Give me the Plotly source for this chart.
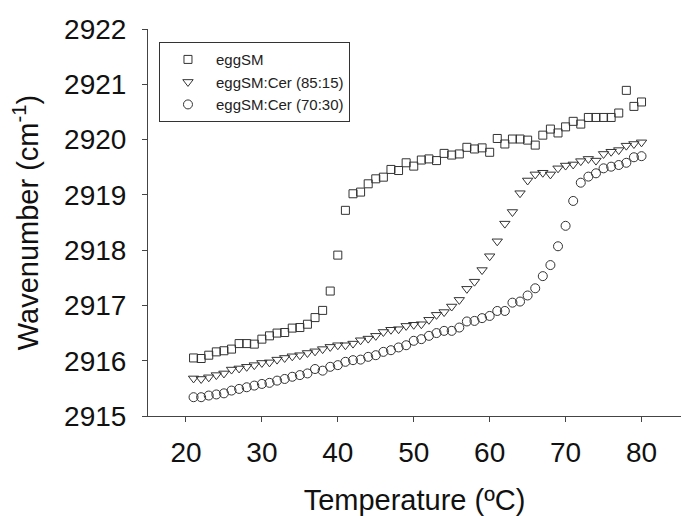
import plotly.graph_objects as go

temperature = list(range(21, 81))

egg_sm = [2916.05, 2916.04, 2916.10, 2916.16, 2916.18, 2916.21, 2916.31, 2916.31, 2916.30, 2916.39,
          2916.45, 2916.50, 2916.51, 2916.59, 2916.60, 2916.66, 2916.78, 2916.91, 2917.26, 2917.91,
          2918.72, 2919.02, 2919.05, 2919.20, 2919.29, 2919.32, 2919.46, 2919.44, 2919.58, 2919.52,
          2919.63, 2919.65, 2919.62, 2919.75, 2919.72, 2919.74, 2919.86, 2919.83, 2919.85, 2919.77,
          2920.02, 2919.92, 2920.01, 2920.01, 2919.99, 2919.90, 2920.08, 2920.19, 2920.12, 2920.23,
          2920.33, 2920.28, 2920.40, 2920.40, 2920.40, 2920.40, 2920.48, 2920.89, 2920.60, 2920.68]

egg_sm_cer_85_15 = [2915.68, 2915.67, 2915.70, 2915.74, 2915.77, 2915.84, 2915.86, 2915.89, 2915.92, 2915.96,
                    2915.97, 2916.02, 2916.05, 2916.08, 2916.10, 2916.14, 2916.17, 2916.21, 2916.25, 2916.28,
                    2916.28, 2916.31, 2916.37, 2916.40, 2916.45, 2916.52, 2916.56, 2916.57, 2916.63, 2916.65,
                    2916.66, 2916.74, 2916.83, 2916.88, 2916.98, 2917.10, 2917.30, 2917.43, 2917.64, 2917.89,
                    2918.16, 2918.48, 2918.69, 2919.03, 2919.26, 2919.37, 2919.40, 2919.37, 2919.48, 2919.53,
                    2919.55, 2919.61, 2919.65, 2919.62, 2919.74, 2919.78, 2919.81, 2919.89, 2919.92, 2919.95]

egg_sm_cer_70_30 = [2915.34, 2915.34, 2915.37, 2915.39, 2915.41, 2915.46, 2915.49, 2915.52, 2915.55, 2915.58,
                    2915.60, 2915.64, 2915.67, 2915.71, 2915.74, 2915.77, 2915.85, 2915.82, 2915.89, 2915.92,
                    2915.98, 2916.01, 2916.02, 2916.07, 2916.10, 2916.16, 2916.19, 2916.24, 2916.28, 2916.36,
                    2916.39, 2916.45, 2916.50, 2916.54, 2916.54, 2916.60, 2916.71, 2916.72, 2916.77, 2916.81,
                    2916.90, 2916.90, 2917.05, 2917.07, 2917.18, 2917.31, 2917.53, 2917.73, 2918.07, 2918.44,
                    2918.89, 2919.22, 2919.33, 2919.39, 2919.48, 2919.51, 2919.54, 2919.58, 2919.68, 2919.70]

series_names = ["eggSM", "eggSM:Cer (85:15)", "eggSM:Cer (70:30)"]
series_values = [egg_sm, egg_sm_cer_85_15, egg_sm_cer_70_30]
symbols = ["square-open", "triangle-down-open", "circle-open"]
sizes = [8, 9, 9]

x_ticks = [20, 30, 40, 50, 60, 70, 80]
y_ticks = [2915, 2916, 2917, 2918, 2919, 2920, 2921, 2922]

fig = go.Figure()
for name, vals, sym, sz in zip(series_names, series_values, symbols, sizes):
    fig.add_trace(go.Scatter(
        x=temperature, y=vals, mode="markers", name=name,
        marker=dict(symbol=sym, size=sz, color="#333333", line=dict(width=1, color="#333333")),
    ))

axis_font = dict(family="Liberation Sans, Arial, sans-serif", size=28, color="#111111")
title_font = dict(family="Liberation Sans, Arial, sans-serif", size=29, color="#111111")

fig.update_layout(
    width=681, height=516,
    margin=dict(l=148, r=0, t=29, b=100),
    paper_bgcolor="white", plot_bgcolor="white",
    showlegend=True,
    legend=dict(
        x=0.0206, y=0.966, xanchor="left", yanchor="top",
        bordercolor="#333333", borderwidth=1,
        font=dict(family="Liberation Sans, Arial, sans-serif", size=15, color="#222222"),
        itemwidth=46,
        tracegroupgap=0,
    ),
    xaxis=dict(
        range=[15, 85.2], tickvals=x_ticks, ticktext=[str(v) for v in x_ticks],
        showgrid=False, zeroline=False, showline=True, linecolor="#444444", linewidth=1,
        ticks="outside", ticklen=5, tickcolor="#444444", tickfont=axis_font,
        ticklabelstandoff=6, automargin=False,
        title=dict(text="Temperature (ºC)", font=title_font, standoff=27),
    ),
    yaxis=dict(
        range=[2915, 2922], tickvals=y_ticks, ticktext=[str(v) for v in y_ticks],
        showgrid=False, zeroline=False, showline=True, linecolor="#444444", linewidth=1,
        ticks="outside", ticklen=5, tickcolor="#444444", tickfont=axis_font,
        ticklabelstandoff=10, automargin=False,
        title=dict(text="Wavenumber (cm<sup>-1</sup>)", font=title_font, standoff=16),
    ),
)

fig.write_html("out.html", config={"displayModeBar": False},
               post_script="document.body.style.margin='0';")
